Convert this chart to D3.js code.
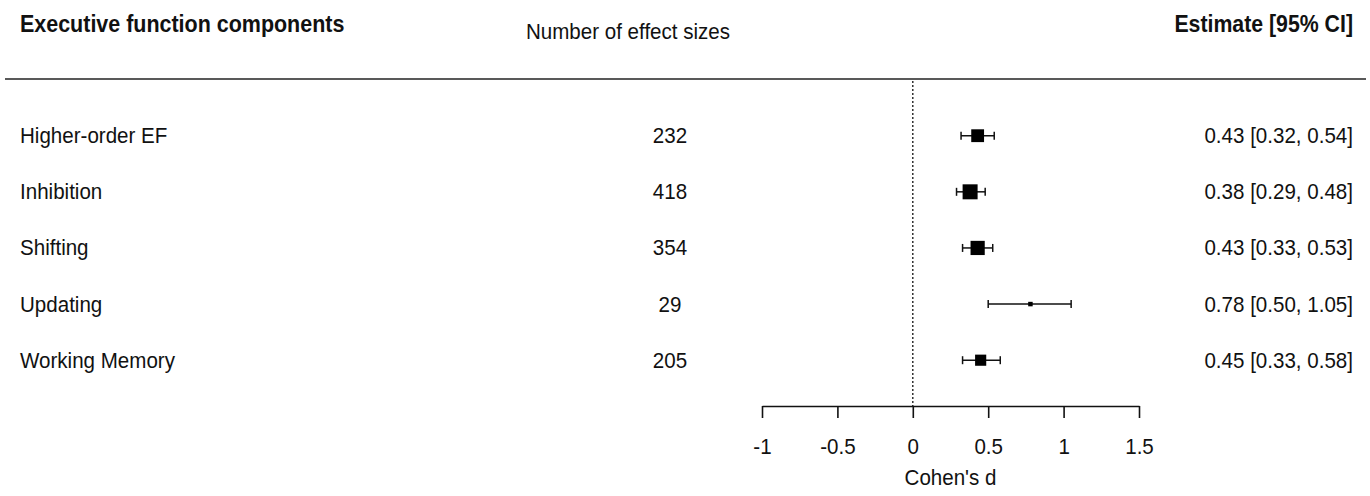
<!DOCTYPE html>
<html>
<head>
<meta charset="utf-8">
<script src="https://cdn.jsdelivr.net/npm/d3@7"></script>
<style>
  html, body { margin: 0; padding: 0; background: #fff; }
  svg { display: block; font-family: "Liberation Sans", Arial, sans-serif; }
</style>
</head>
<body>
<svg id="chart" width="1370" height="496"></svg>
<script>
// Meta-analytic estimates by executive function component
const components = ["Higher-order EF", "Inhibition", "Shifting", "Updating", "Working Memory"];
const nEffects   = [232, 418, 354, 29, 205];
const estimates  = [0.43, 0.38, 0.43, 0.78, 0.45];
const ciLower    = [0.32, 0.29, 0.33, 0.50, 0.33];
const ciUpper    = [0.54, 0.48, 0.53, 1.05, 0.58];
const xTicks     = [-1, -0.5, 0, 0.5, 1, 1.5];

const rows = components.map((name, i) => ({
  name, k: nEffects[i], est: estimates[i], lb: ciLower[i], ub: ciUpper[i],
  // precision (1 / standard error) drives the square size
  prec: 3.92 / (ciUpper[i] - ciLower[i])
}));

const svg = d3.select("#chart");
const ink = "#111";
const FS = 22.6, SX = 0.91;   // text is drawn slightly condensed

const x = d3.scaleLinear().domain([-1, 1.5]).range([762, 1139]);
const y = d3.scalePoint().domain(d3.range(rows.length)).range([135.7, 360.2]);
const size = d3.scaleLinear()
  .domain(d3.extent(rows, d => d.prec))
  .range([4.5, 15]);

// helper: condensed text placed at (px, py)
function label(sel, px, py, txt, opts = {}) {
  return sel.append("text")
    .attr("transform", `translate(${px},${py}) scale(${SX},1)`)
    .attr("font-size", opts.size || FS)
    .attr("font-weight", opts.bold ? "bold" : null)
    .attr("text-anchor", opts.anchor || "start")
    .attr("fill", ink)
    .text(txt);
}

// column headers
label(svg, 20, 32, "Executive function components", { bold: true, size: 23.6 });
label(svg, 628, 39, "Number of effect sizes", { anchor: "middle" });
label(svg, 1353, 32, "Estimate [95% CI]", { bold: true, size: 23.4, anchor: "end" });

// rule under the headers
svg.append("line").attr("x1", 5).attr("x2", 1366).attr("y1", 79).attr("y2", 79)
  .attr("stroke", "#222").attr("stroke-width", 1.6);

// reference line at d = 0
svg.append("line").attr("x1", x(0)).attr("x2", x(0)).attr("y1", 81).attr("y2", 406)
  .attr("stroke", "#222").attr("stroke-width", 1.4).attr("stroke-dasharray", "2,2");

const row = svg.selectAll("g.row").data(rows).join("g")
  .attr("class", "row")
  .attr("transform", (d, i) => `translate(0,${y(i)})`);

row.each(function (d) {
  const g = d3.select(this);
  label(g, 20, 7.5, d.name);
  label(g, 670, 7.5, d.k, { anchor: "middle" });
  label(g, 1353, 7.5, `${d.est.toFixed(2)} [${d.lb.toFixed(2)}, ${d.ub.toFixed(2)}]`, { anchor: "end" });
});

// confidence interval whiskers
row.append("line").attr("x1", d => x(d.lb)).attr("x2", d => x(d.ub))
  .attr("y1", 0).attr("y2", 0).attr("stroke", ink).attr("stroke-width", 1.5);
row.selectAll("line.cap").data(d => [d.lb, d.ub]).join("line")
  .attr("class", "cap")
  .attr("x1", v => x(v)).attr("x2", v => x(v)).attr("y1", -4).attr("y2", 4)
  .attr("stroke", ink).attr("stroke-width", 1.5);

// point estimates
row.append("rect")
  .attr("x", d => x(d.est) - size(d.prec) / 2)
  .attr("y", d => -size(d.prec) / 2)
  .attr("width", d => size(d.prec)).attr("height", d => size(d.prec))
  .attr("fill", "#000");

// x axis
const axis = svg.append("g").attr("transform", "translate(0,406)")
  .call(d3.axisBottom(x).tickValues(xTicks).tickSize(12).tickSizeOuter(0)
    .tickFormat(d => d < 0 ? "-" + Math.abs(d) : String(d)));
axis.select(".domain").attr("stroke", ink).attr("stroke-width", 1.6);
axis.selectAll(".tick line").attr("stroke", ink).attr("stroke-width", 1.6);
axis.selectAll(".tick text")
  .attr("font-size", FS).attr("fill", ink)
  .attr("font-family", "Liberation Sans, Arial, sans-serif")
  .attr("y", 0).attr("dy", 0)
  .attr("transform", `translate(0,48) scale(${SX},1)`);

label(svg, x(0.25), 485, "Cohen's d", { anchor: "middle" });
</script>
</body>
</html>
